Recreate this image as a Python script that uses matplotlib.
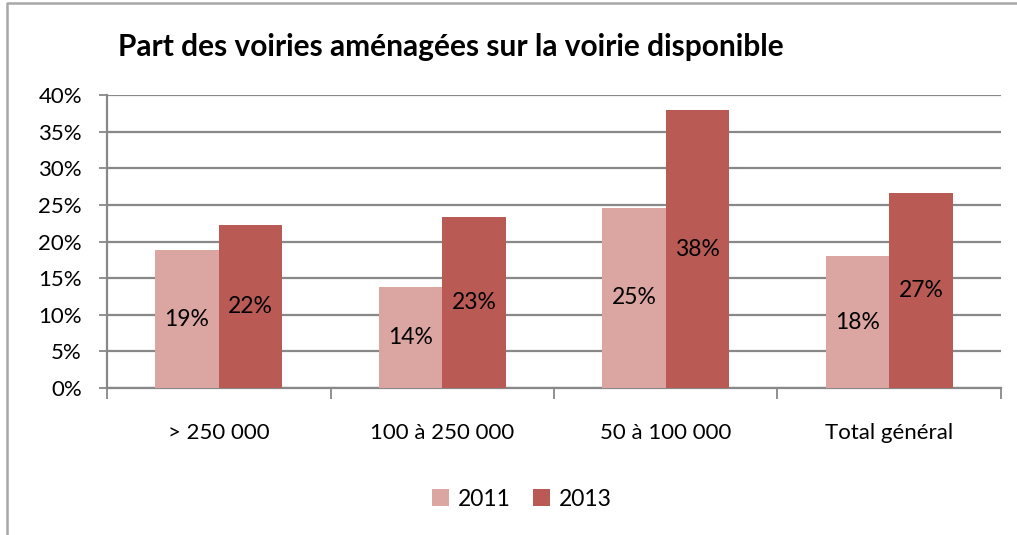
import matplotlib
matplotlib.use("Agg")
import matplotlib.pyplot as plt
from matplotlib.lines import Line2D
from matplotlib.patches import Patch
import numpy as np

categories = ["> 250 000", "100 à 250 000", "50 à 100 000", "Total général"]
series_names = ["2011", "2013"]
values_2011 = [18.8, 13.8, 24.6, 18.0]
values_2013 = [22.3, 23.3, 37.9, 26.6]
y_ticks = [0, 5, 10, 15, 20, 25, 30, 35, 40]
title = "Part des voiries aménagées sur la voirie disponible"

c2011 = "#DBA5A1"
c2013 = "#BA5A54"
grid_c = "#888888"

plt.rcParams['font.family'] = ['Lato', 'DejaVu Sans']

W, H = 1017, 535
fig = plt.figure(figsize=(W / 100, H / 100), dpi=100)
fig.patch.set_facecolor("white")

ax = fig.add_axes([107 / W, 1 - 388 / H, (1001 - 107) / W, (388 - 95) / H])

x = np.arange(len(categories))
bw = 0.285
b1 = ax.bar(x - bw / 2, values_2011, bw, color=c2011, zorder=3, label=series_names[0])
b2 = ax.bar(x + bw / 2, values_2013, bw, color=c2013, zorder=3, label=series_names[1])

for bars, vals in ((b1, values_2011), (b2, values_2013)):
    for r, v in zip(bars, vals):
        ax.text(r.get_x() + r.get_width() / 2, v / 2, f"{round(v):d}%",
                ha="center", va="center", fontsize=16.5, color="black", zorder=4)

ax.set_xlim(-0.5, len(categories) - 0.5)
ax.set_ylim(0, 40)
ax.set_yticks(y_ticks)
ax.set_yticklabels([f"{t}%" for t in y_ticks], fontsize=16)
ax.yaxis.grid(True, color=grid_c, linewidth=1.6, zorder=0)
ax.set_axisbelow(True)

ax.set_xticks(np.arange(-0.5, len(categories), 1.0))
ax.set_xticklabels([])
ax.set_xticks(x, minor=True)
ax.set_xticklabels(categories, minor=True, fontsize=16)
ax.tick_params(axis="x", which="major", length=8, width=1.3, color=grid_c, direction="out")
ax.tick_params(axis="x", which="minor", length=0, pad=25)
ax.tick_params(axis="y", length=6, width=1.3, color=grid_c, pad=12)

for s in ("top", "right"):
    ax.spines[s].set_visible(False)
for s in ("left", "bottom"):
    ax.spines[s].set_color(grid_c)
    ax.spines[s].set_linewidth(1.6)

fig.text(118 / W, 1 - 47 / H, title, fontsize=21.5, fontweight="bold",
         ha="left", va="center")

handles = [Patch(facecolor=c2011), Patch(facecolor=c2013)]
fig.legend(handles, series_names, loc="center", bbox_to_anchor=(522 / W, 1 - 499 / H),
           ncol=2, frameon=False, fontsize=16.5, handlelength=0.7, handleheight=0.7,
           handletextpad=0.4, columnspacing=1.0)

fig.add_artist(Line2D([7 / W, 7 / W, 1.0], [0.0, 1 - 3 / H, 1 - 3 / H],
                      transform=fig.transFigure, color="#A8A8A8", linewidth=1.8))

fig.savefig("out.png", dpi=100)
